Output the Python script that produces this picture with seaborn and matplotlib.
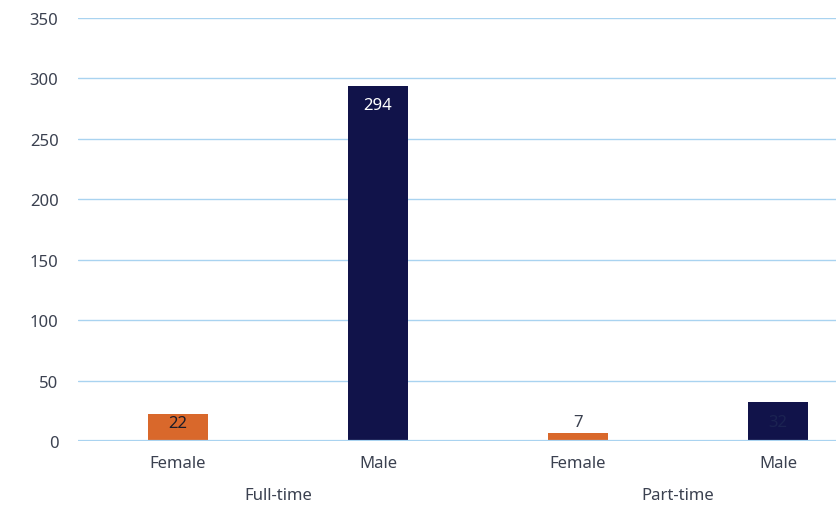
import matplotlib
matplotlib.use("Agg")
import matplotlib.pyplot as plt
import seaborn as sns
import pandas as pd

employment = ["Full-time", "Full-time", "Part-time", "Part-time"]
gender = ["Female", "Male", "Female", "Male"]
headcount = [22, 294, 7, 32]

group_labels = ["Full-time", "Part-time"]
y_ticks = [0, 50, 100, 150, 200, 250, 300, 350]

sns.set_theme(style="white")
plt.rcParams["font.family"] = ["Noto Sans", "DejaVu Sans"]

text_color = "#3b4150"
grid_color = "#a9d3f0"
palette = {"Female": "#d9682b", "Male": "#11134a"}
fs = 12

df = pd.DataFrame({
    "slot": [f"{e} {g}" for e, g in zip(employment, gender)],
    "employment": employment,
    "gender": gender,
    "count": headcount,
})

fig = plt.figure(figsize=(8.36, 5.06), dpi=100)
ax = fig.add_axes([78 / 836, 64 / 506, 1 - 78 / 836, 423 / 506])

sns.barplot(data=df, x="slot", y="count", hue="gender", palette=palette,
            width=0.3, dodge=False, legend=False, saturation=1, ax=ax,
            linewidth=0, zorder=3)

ax.set_ylim(0, 350)
ax.set_xlim(-0.5, 3.29)
ax.set_yticks(y_ticks)
ax.set_yticklabels([str(v) for v in y_ticks], fontsize=fs, color=text_color)
ax.yaxis.grid(True, color=grid_color, linewidth=1.0, zorder=0)
ax.axhline(0, color=grid_color, linewidth=1.6, zorder=4)
ax.tick_params(axis="y", length=0, pad=14)
ax.tick_params(axis="x", length=0, pad=10)
ax.set_xticks(range(len(gender)))
ax.set_xticklabels(gender, fontsize=fs, color=text_color)
ax.set_xlabel("")
ax.set_ylabel("")
for s in ax.spines.values():
    s.set_visible(False)

# group captions below the category labels
for i, g in enumerate(group_labels):
    ax.annotate(g, xy=(2 * i + 0.5, 0), xycoords=("data", "axes fraction"),
                xytext=(0, -54), textcoords="offset pixels",
                ha="center", va="center", fontsize=fs, color=text_color)

# value labels: (offset from bar top in pixels, colour)
label_style = [(-9, "#1c1c28"), (-19, "#ffffff"), (11, text_color), (-20, "#1b2352")]
for i, (v, (dy, c)) in enumerate(zip(headcount, label_style)):
    ax.annotate(str(v), xy=(i, v), xytext=(0, dy), textcoords="offset pixels",
                ha="center", va="center", fontsize=fs, color=c, zorder=5)

fig.savefig("out.png", dpi=100)
